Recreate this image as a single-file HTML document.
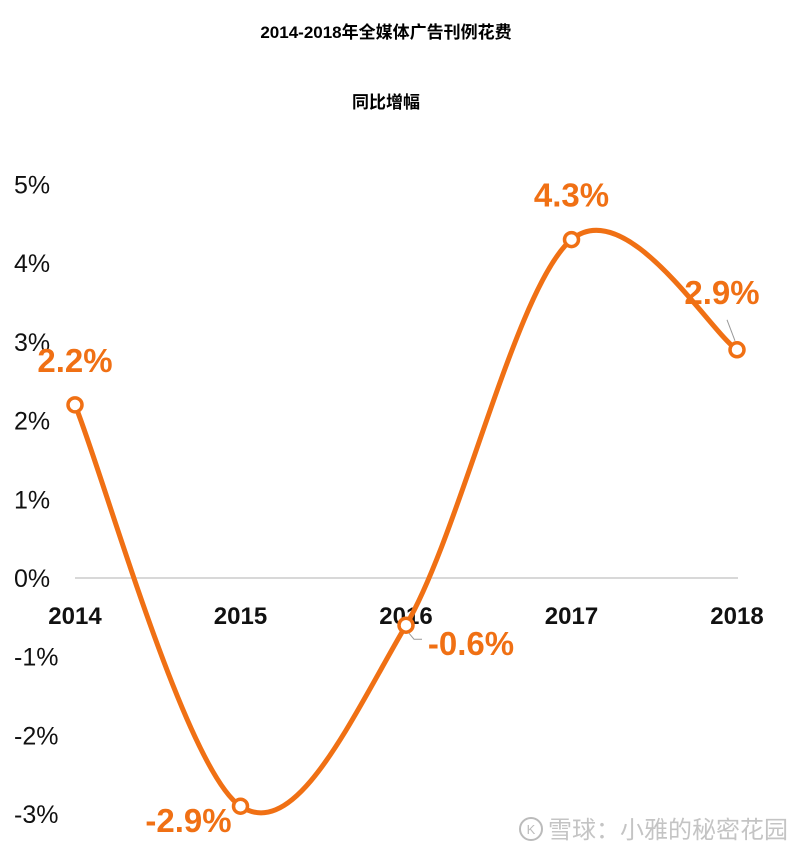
<!DOCTYPE html>
<html><head><meta charset="utf-8">
<style>
body{margin:0;background:#fff;width:800px;height:852px;overflow:hidden;font-family:"Liberation Sans","Noto Sans CJK SC",sans-serif}
</style></head><body>
<svg id="chart" width="800" height="852" xmlns="http://www.w3.org/2000/svg">
<text x="386" y="38" text-anchor="middle" font-size="17" font-weight="bold" font-family="Liberation Sans, Noto Sans CJK SC, sans-serif">2014-2018年全媒体广告刊例花费</text>
<text x="386" y="108" text-anchor="middle" font-size="17" font-weight="bold" font-family="Liberation Sans, Noto Sans CJK SC, sans-serif">同比增幅</text>
<g id="yaxis"></g><g id="xaxis"></g><g id="series"></g><g id="labels"></g>
<g>
<circle cx="531" cy="829" r="11" fill="none" stroke="#bbb" stroke-width="2"/>
<text x="531" y="834" text-anchor="middle" font-size="13" fill="#bbb">K</text>
<text x="548" y="838" font-size="24" fill="#c4c4c4" font-family="Liberation Sans, Noto Sans CJK SC, sans-serif">雪球：小雅的秘密花园</text>
</g>
</svg>
<script>
const categories=["2014","2015","2016","2017","2018"];
const values=[2.2,-2.9,-0.6,4.3,2.9];
const labels=["2.2%","-2.9%","-0.6%","4.3%","2.9%"];
const yTicks=[5,4,3,2,1,0,-1,-2,-3];
const NS="http://www.w3.org/2000/svg";
const x=i=>75+i*165.5;
const y=v=>578-v*78.7;
function mk(t,a,p){const e=document.createElementNS(NS,t);for(const k in a)e.setAttribute(k,a[k]);p.appendChild(e);return e;}
const ya=document.getElementById('yaxis');
yTicks.forEach(v=>{const t=mk('text',{x:14,y:y(v)+9,'font-size':25,fill:'#111'},ya);t.textContent=v+'%';

});
const zl=mk('line',{x1:75,x2:738,y1:y(0),y2:y(0),stroke:'#ccc','stroke-width':1.5},ya);


const xa=document.getElementById('xaxis');
categories.forEach((c,i)=>{const t=mk('text',{x:x(i),y:624,'text-anchor':'middle','font-size':24,'font-weight':'bold',fill:'#111'},xa);t.textContent=c;

});
const pts=values.map((v,i)=>[x(i),y(v)]);
let d='M'+pts[0][0]+','+pts[0][1];
for(let i=0;i<pts.length-1;i++){const p0=pts[Math.max(0,i-1)],p1=pts[i],p2=pts[i+1],p3=pts[Math.min(pts.length-1,i+2)];
const c1=[p1[0]+(p2[0]-p0[0])/6,p1[1]+(p2[1]-p0[1])/6],c2=[p2[0]-(p3[0]-p1[0])/6,p2[1]-(p3[1]-p1[1])/6];
d+=` C${c1[0]},${c1[1]} ${c2[0]},${c2[1]} ${p2[0]},${p2[1]}`;}
const s=document.getElementById('series');
const path=mk('path',{d:d,fill:'none',stroke:'#f07014','stroke-width':5},s);


const lo=[[0,-45],[-52,14],[65,18],[0,-45],[-15,-58]];
const lb=document.getElementById('labels');
pts.forEach((p,i)=>{
 if(i==2){mk('path',{d:`M${p[0]+3},${p[1]+8} L${p[0]+8},${p[1]+14} L${p[0]+16},${p[1]+14}`,fill:'none',stroke:'#999','stroke-width':1},lb);}
 if(i==4){mk('line',{x1:p[0]-2,y1:p[1]-9,x2:p[0]-10,y2:p[1]-30,stroke:'#999','stroke-width':1},lb);}
 const c=mk('circle',{cx:p[0],cy:p[1],r:7,fill:'#fff',stroke:'#f07014','stroke-width':3.5},s);
 
 
 const t=mk('text',{x:p[0]+lo[i][0],y:p[1]+lo[i][1]+12,'text-anchor':'middle','font-size':33,'font-weight':'bold',fill:'#f07014'},lb);
 t.textContent=labels[i];
 
 
});
</script>
</body></html>
